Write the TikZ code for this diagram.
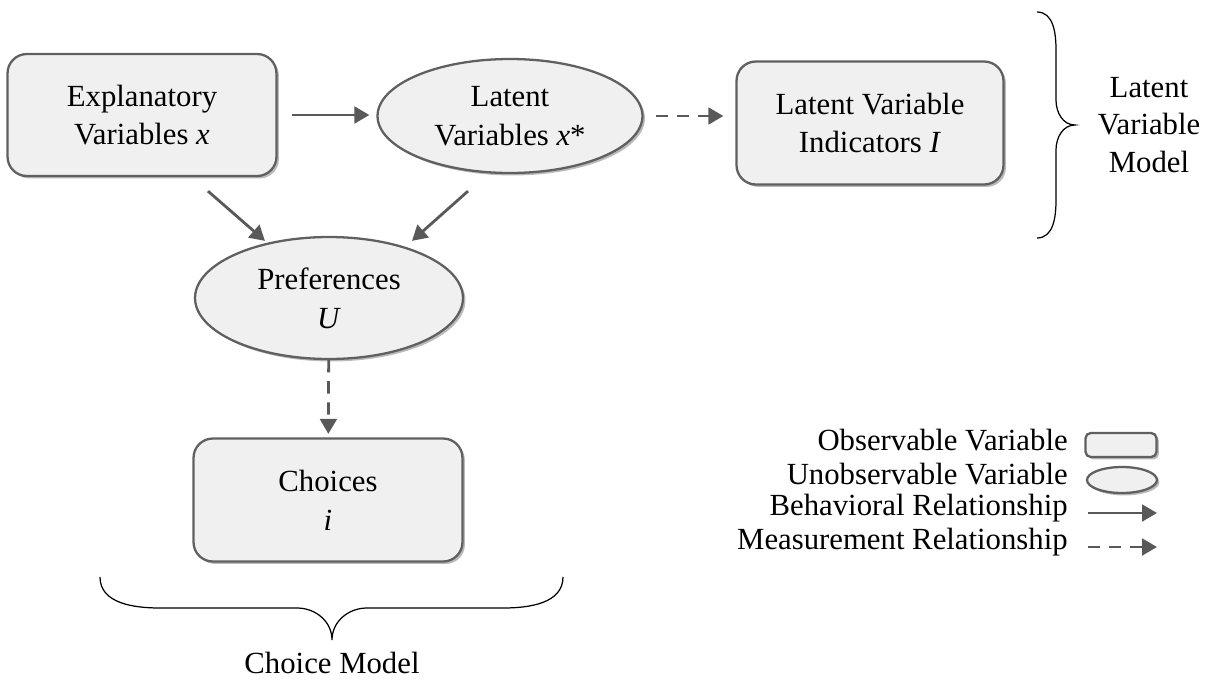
\documentclass[tikz,border=0pt]{standalone}
\usepackage{fontspec}
\setmainfont{Liberation Serif}
\usetikzlibrary{shapes.geometric,shadows,arrows.meta}

\definecolor{boxfill}{HTML}{F0F0F0}
\definecolor{boxline}{HTML}{606060}
\definecolor{arrowgray}{HTML}{595959}

\begin{document}
\begin{tikzpicture}[x=0.02cm,y=-0.02cm,
        font=\fontsize{17.5}{22}\selectfont,
        shade/.style={drop shadow={shadow xshift=1.4pt,shadow yshift=-1.4pt,fill=black!45,opacity=.6}},
        obs/.style={draw=boxline,line width=1.3pt,fill=boxfill,rounded corners=11pt,align=center,inner sep=0pt,shade},
        unobs/.style={ellipse,draw=boxline,line width=1.3pt,fill=boxfill,align=center,inner sep=0pt,shade},
        beh/.style={draw=arrowgray,line width=1.6pt,-{Triangle[length=8.5pt,width=9.5pt]}},
        mea/.style={beh,dash pattern=on 7pt off 5pt},
        brace/.style={black,line width=0.7pt},
        legtext/.style={anchor=east,inner sep=0pt}]
    \useasboundingbox (0,0) rectangle (1207,687);

    % model
    \node[obs,minimum width=5.38cm,minimum height=2.44cm] (expl) at (142,115) {Explanatory\\Variables \textit{x}};
    \node[unobs,minimum width=5.3cm,minimum height=2.28cm] (lat) at (510,116) {Latent\\Variables \textit{x}*};
    \node[obs,minimum width=5.34cm,minimum height=2.46cm] (ind) at (870,123) {Latent Variable\\Indicators \textit{I}};
    \node[unobs,minimum width=5.36cm,minimum height=2.44cm] (pref) at (329,298) {Preferences\\\textit{U}};
    \node[obs,minimum width=5.38cm,minimum height=2.46cm] (cho) at (328,500) {Choices\\\textit{i}};

    \draw[beh] ([xshift=14*0.02cm]expl.east) -- ([xshift=-7*0.02cm]expl.east -| lat.west);
    \draw[mea] ([xshift=12*0.02cm]lat.east) -- ([xshift=-12*0.02cm]lat.east -| ind.west);
    \draw[beh] ([shift={(66,14)}]expl.south) -- ([shift={(-64,5)}]pref.north);
    \draw[beh] ([shift={(-42,17)}]lat.south) -- ([shift={(83,5)}]pref.north);
    \draw[mea,shorten >=2pt] (pref) -- (cho);

    % braces
    \coordinate (rb) at (1075,125);
    \draw[brace] (1037,12) to[out=0,in=90] (1056,50) -- (1056,100)
        to[out=-90,in=180] (rb) to[out=180,in=90] (1056,150) -- (1056,200)
        to[out=-90,in=0] (1037,238);
    \node[align=center,font=\fontsize{17.5}{21.5}\selectfont] (lvm) at (1149,125) {Latent\\Variable\\Model};

    \coordinate (bb) at (332,640);
    \draw[brace] (100,577) to[out=-90,in=180] (160,608) -- (297,608)
        to[out=0,in=90] (bb) to[out=90,in=180] (367,608) -- (503,608)
        to[out=0,in=-90] (563,577);
    \node (cm) at (332,663) {Choice Model};

    % legend
    \node[legtext] (l1) at (1068,440) {Observable Variable};
    \node[legtext] (l2) at (1068,474) {Unobservable Variable};
    \node[legtext] (l3) at (1068,508) {Behavioral Relationship};
    \node[legtext] (l4) at (1068,542) {Measurement Relationship};
    \node[obs,rounded corners=3pt,minimum width=1.42cm,minimum height=0.48cm] (s1) at (1121,445) {};
    \node[unobs,minimum width=1.4cm,minimum height=0.52cm] (s2) at (1122,480) {};
    \coordinate (a1) at (1088,513);
    \coordinate (a2) at (1157,513);
    \coordinate (m1) at (1088,547);
    \coordinate (m2) at (1157,547);
    \draw[beh] (a1) -- (a2);
    \draw[mea] (m1) -- (m2);
\end{tikzpicture}
\end{document}
